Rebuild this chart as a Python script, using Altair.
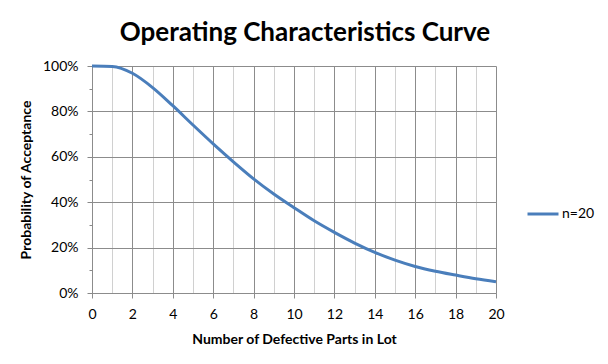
import altair as alt
import pandas as pd

defects = list(range(0, 21))
p_accept = [1.000, 0.998, 0.968, 0.905, 0.825, 0.740, 0.657, 0.578, 0.503, 0.436,
            0.376, 0.318, 0.267, 0.220, 0.179, 0.145, 0.117, 0.096, 0.079, 0.063, 0.050]
series = ["n=20"] * len(defects)

df = pd.DataFrame({"x": defects, "y": p_accept, "s": series})

FONT = "Lato"

chart = alt.Chart(df).mark_line(strokeWidth=3, interpolate="monotone").encode(
    x=alt.X("x:Q", scale=alt.Scale(domain=[0, 20], nice=False),
            axis=alt.Axis(values=list(range(0, 21)),
                          labelExpr="datum.value % 2 == 0 ? datum.label : ''",
                          title="Number of Defective Parts in Lot", labelFlush=False,
                          gridColor={"condition": {"test": "datum.value % 2 == 0", "value": "#8c8c8c"}, "value": "#d0d0d0"},
                          tickColor={"condition": {"test": "datum.value % 2 == 0", "value": "#8c8c8c"}, "value": "transparent"},
                          tickSize=5, labelPadding=9, titlePadding=11)),
    y=alt.Y("y:Q", scale=alt.Scale(domain=[0, 1], nice=False),
            axis=alt.Axis(values=[i / 10 for i in range(11)], format=".0%",
                          labelExpr="round(datum.value*10) % 2 == 0 ? datum.label : ''",
                          title="Probability of Acceptance", labelFlush=False,
                          gridColor={"condition": {"test": "round(datum.value*10) % 2 == 0", "value": "#8c8c8c"}, "value": "transparent"},
                          tickSize={"condition": {"test": "round(datum.value*10) % 2 == 0", "value": 5}, "value": 3},
                          labelPadding=9, titlePadding=9)),
    color=alt.Color("s:N", scale=alt.Scale(range=["#4a7ebb"]),
                    legend=alt.Legend(title=None, orient="none", legendX=434, legendY=131,
                                      symbolType="stroke", symbolSize=961, symbolStrokeWidth=3,
                                      labelFontSize=14, labelFont=FONT, labelOffset=2)),
).properties(
    width=404, height=227,
    title=alt.TitleParams("Operating Characteristics Curve", fontSize=26, font=FONT,
                          fontWeight="bold", anchor="middle", dx=11, offset=13, color="black"),
    padding={"left": 84, "top": 58, "right": 100, "bottom": 55},
    autosize=alt.AutoSizeParams(type="none"),
).configure_axis(
    labelFont=FONT, titleFont=FONT, labelFontSize=14, titleFontSize=14,
    labelColor="black", titleColor="black", titleFontWeight="bold",
    domainColor="#8c8c8c", gridWidth=1, gridOpacity=1,
).configure_view(stroke=None)

chart.save("out.html", embed_options={"renderer": "svg", "actions": False})
